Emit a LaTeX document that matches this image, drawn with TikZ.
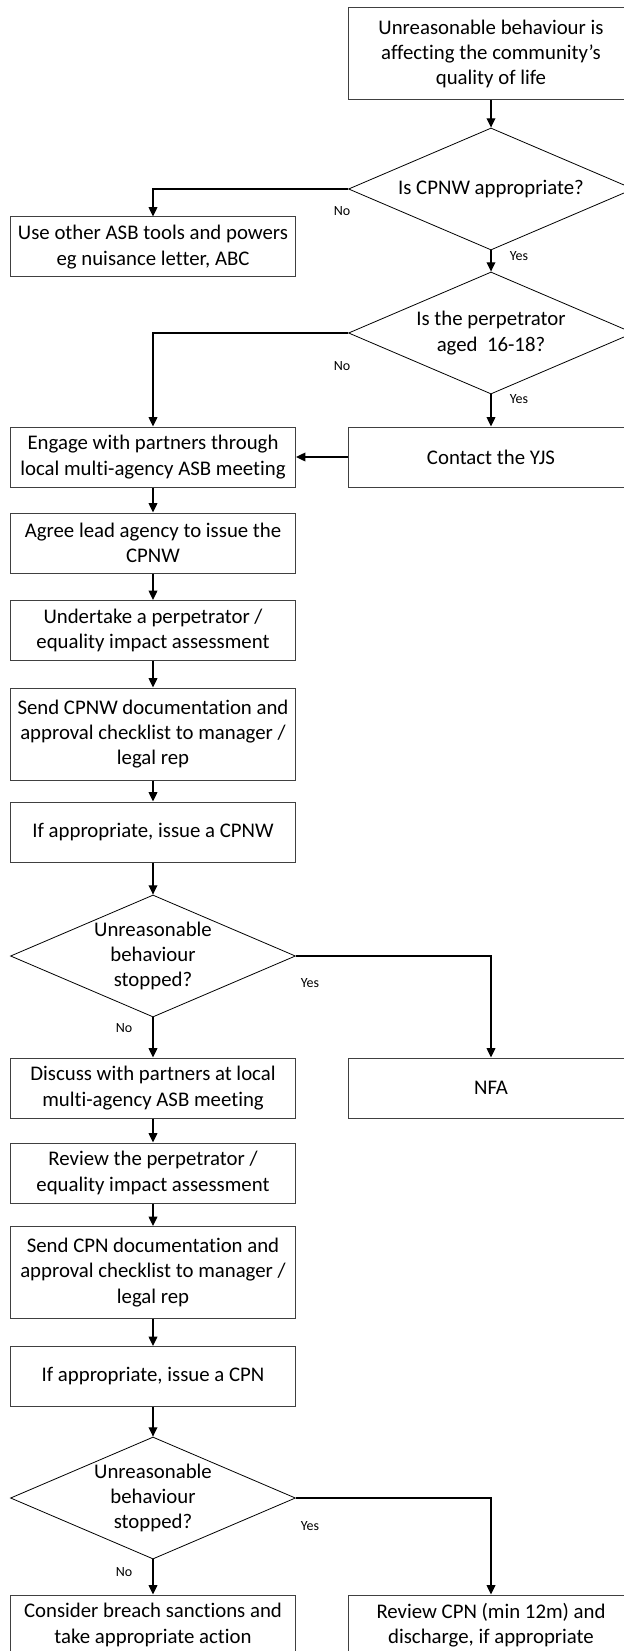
\documentclass[tikz,border=0pt]{standalone}
\usepackage{fontspec}
\setmainfont{Carlito}[Ligatures=NoCommon]
\usepackage{tikz}
\usetikzlibrary{arrows.meta, shapes.geometric, positioning, calc}

\tikzset{
  stepbox/.style={draw=black!75, line width=0.75pt, rectangle, align=center,
    minimum width=213.75pt, minimum height=45pt, inner sep=2pt,
    font=\fontsize{15.6}{18.9}\selectfont},
  tallbox/.style={stepbox, minimum height=69pt},
  decision/.style={draw=black, line width=0.6pt, diamond, inner sep=0pt,
    minimum width=213.75pt, minimum height=91.5pt},
  dectext/.style={align=center, font=\fontsize{15.6}{18.9}\selectfont},
  answer/.style={font=\fontsize{10.5}{12}\selectfont, inner sep=0pt},
  flow/.style={draw=black, line width=1pt, -{Triangle[length=7pt,width=6.5pt]}}
}

\begin{document}
\begin{tikzpicture}[x=0.75pt,y=-0.75pt]
\useasboundingbox (0,0) rectangle (624,1651);
\clip (0,0) rectangle (624,1651);

% right column, top
\node[tallbox] (start) at (491,54) {Unreasonable behaviour is\\affecting the community’s\\quality of life};
\node[decision, label={[dectext]center:Is CPNW appropriate?}] (d1) at (491,189) {};
\node[stepbox] (other) at (153,247) {Use other ASB tools and powers\\eg nuisance letter, ABC};
\node[decision, label={[dectext]center:Is the perpetrator\\aged~~16-18?}] (d2) at (491,333) {};
\node[stepbox] (yjs) at (491,457) {Contact the YJS};

% left column, CPNW
\node[stepbox] (engage) at (153,457) {Engage with partners through\\local multi-agency ASB meeting};
\node[stepbox] (agree) at (153,543) {Agree lead agency to issue the\\CPNW};
\node[stepbox] (assess) at (153,630.5) {Undertake a perpetrator /\\equality impact assessment};
\node[tallbox] (sendw) at (153,734) {Send CPNW documentation and\\approval checklist to manager /\\legal rep};
\node[stepbox] (issuew) at (153,832) {If appropriate, issue a CPNW};
\node[decision, label={[dectext]center:Unreasonable\\behaviour\\stopped?}] (d3) at (153,956) {};
\node[stepbox] (nfa) at (491,1088) {NFA};

% left column, CPN
\node[stepbox] (discuss) at (153,1088) {Discuss with partners at local\\multi-agency ASB meeting};
\node[stepbox] (review) at (153,1173) {Review the perpetrator /\\equality impact assessment};
\node[tallbox] (sendn) at (153,1272.5) {Send CPN documentation and\\approval checklist to manager /\\legal rep};
\node[stepbox] (issuen) at (153,1376.5) {If appropriate, issue a CPN};
\node[decision, label={[dectext]center:Unreasonable\\behaviour\\stopped?}] (d4) at (153,1498) {};
\node[stepbox] (breach) at (153,1625) {Consider breach sanctions and\\take appropriate action};
\node[stepbox] (discharge) at (491,1625) {Review CPN (min 12m) and\\discharge, if appropriate};

% answers
\node[answer] (no1) at (342,211) {No};
\node[answer] (yes1) at (519,256) {Yes};
\node[answer] (no2) at (342,366) {No};
\node[answer] (yes2) at (519,399) {Yes};
\node[answer] (yes3) at (310,983) {Yes};
\node[answer] (no3) at (124,1028) {No};
\node[answer] (yes4) at (310,1526) {Yes};
\node[answer] (no4) at (124,1572) {No};

% connectors
\draw[flow] (start) -- (d1);
\draw[flow] (d1.west) -| (other.north);
\draw[flow] (d1) -- (d2);
\draw[flow] (d2.west) -| (engage.north);
\draw[flow] (d2) -- (yjs);
\draw[flow] (yjs) -- (engage);
\draw[flow] (engage) -- (agree);
\draw[flow] (agree) -- (assess);
\draw[flow] (assess) -- (sendw);
\draw[flow] (sendw) -- (issuew);
\draw[flow] (issuew) -- (d3);
\draw[flow] (d3.east) -| (nfa.north);
\draw[flow] (d3) -- (discuss);
\draw[flow] (discuss) -- (review);
\draw[flow] (review) -- (sendn);
\draw[flow] (sendn) -- (issuen);
\draw[flow] (issuen) -- (d4);
\draw[flow] (d4.east) -| (discharge.north);
\draw[flow] (d4) -- (breach);
\end{tikzpicture}
\end{document}
